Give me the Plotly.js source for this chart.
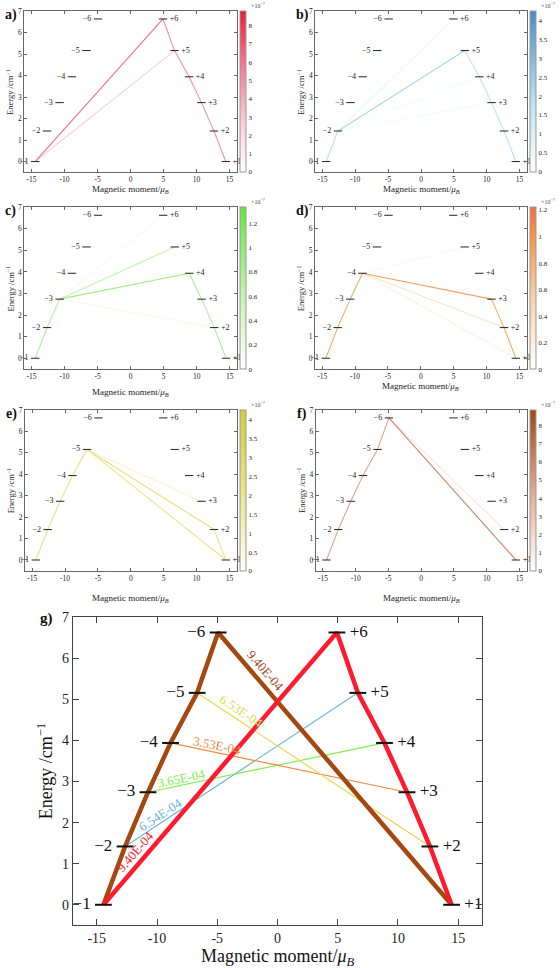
<!DOCTYPE html>
<html><head><meta charset="utf-8">
<script src="https://cdn.plot.ly/plotly-3.0.1.min.js"></script>
<style>html,body{margin:0;padding:0;background:#fff}</style>
</head><body><div id="chart" style="width:560px;height:968px"></div>
<script>
// ---- data ----
const STATE_MOMENT = [14.45, 12.65, 10.75, 8.88, 6.67, 4.93];   // |M| of states ±1..±6
const STATE_ENERGY = [0, 1.42, 2.74, 3.94, 5.16, 6.63];          // energy of states ±1..±6
const STATE_IDS = [-1,-2,-3,-4,-5,-6,1,2,3,4,5,6];
const X_TICKS = [-15,-10,-5,0,5,10,15];
const X_TICK_TEXT = ['-15','-10','-5','0','5','10','15'];
const Y_TICKS = [0,1,2,3,4,5,6,7];

// transitions [from, to, value (x1e-7)]
const A_TRANS = [[-1,5,2.6],[-1,4,0.35],[-1,3,0.12],[-1,6,6.2],[6,5,5.0],[5,4,5.0],[4,3,5.0],[3,2,5.0],[2,1,5.0]];
const B_TRANS = [[-2,6,0.5],[-2,4,0.3],[-2,3,0.25],[-1,-2,1.8],[-2,5,2.2],[5,4,1.8],[4,3,1.8],[3,2,1.8],[2,1,1.8]];
const C_TRANS = [[-3,6,0.15],[-3,2,0.15],[-1,-2,0.8],[-2,-3,0.8],[-3,5,0.6],[-3,4,0.9],[4,3,0.8],[3,2,0.8],[2,1,0.8]];
const D_TRANS = [[-4,5,0.1],[-4,1,0.15],[-4,2,0.35],[-1,-2,0.85],[-2,-3,0.85],[-3,-4,0.85],[-4,3,0.9],[3,2,0.85],[2,1,0.85]];
const E_TRANS = [[-5,3,0.8],[-1,-2,2.2],[-2,-3,2.2],[-3,-4,2.2],[-4,-5,2.2],[-5,2,2.4],[-5,1,2.0],[2,1,2.2]];
const F_TRANS = [[-6,2,1.2],[-1,-2,4.6],[-2,-3,4.6],[-3,-4,4.6],[-4,-5,4.6],[-5,-6,4.6],[-6,1,6.0]];

const CB_MAX = [8.8, 4.24, 1.33, 1.22, 4.25, 8.84];
const CB_DTICK = [1, 0.5, 0.2, 0.2, 0.5, 1];
const PANEL_LETTERS = ['a)','b)','c)','d)','e)','f)'];

// panel g
const G_BROWN_PATH = [-1,-2,-3,-4,-5,-6,1];
const G_RED_PATH = [-1,6,5,4,3,2,1];
const G_THIN = [[-2,5],[-3,4],[-4,3],[-5,2]];
const G_THIN_LABELS = ['6.54E-04','3.65E-04','3.53E-04','6.53E-04'];
const G_THIN_LABEL_X = [-9.7, -8.0, -5.0, -2.95];
const G_THIN_LABEL_Y = [2.2, 3.08, 3.88, 4.71];
const G_THICK_LABELS = ['9.40E-04','9.40E-04'];       // brown (-6→+1), red (-1→+6)
const G_THICK_LABEL_X = [-1.0, -11.8];
const G_THICK_LABEL_Y = [5.7, 1.29];

// ---- styles ----
const SERIF = 'Liberation Serif, Times New Roman, serif';
const COLORSCALES = [
  [[0,'#ffffff'],[0.35,'#fbc6d2'],[0.7,'#f0708c'],[1,'#ee1f33']],
  [[0,'#ffffff'],[0.45,'#b6e2f0'],[1,'#4a8cc2']],
  [[0,'#ffffff'],[0.5,'#bff2a6'],[1,'#5ee83a']],
  [[0,'#ffffff'],[0.45,'#f9d0ac'],[0.85,'#f5923e'],[1,'#f06a52']],
  [[0,'#ffffff'],[0.45,'#ece68e'],[1,'#d4cb3c']],
  [[0,'#ffffff'],[0.45,'#e6b29c'],[1,'#a04a16']]
];
const G_COLORS = {brown:'#a5470f', red:'#ff1a2e', thin:['#6ab6d8','#80ee50','#f58a3c','#e2da50']};

const W = 560, H = 968;
// panel plot-area pixel boxes [left, right, top, bottom]
const BOX = [[24.3,236.7,11,172.3],[315.3,526.7,11,172.3],[24.3,237,207.3,369],[315,526.7,207.3,369],[25,236.7,410,570.7],[315.7,526.7,410,570.7]];
const GBOX = [72.7,482.3,617.3,925.3];
const XTITLE_Y = [189,189,392,387,598,598];
const NB = '\u00a0';

function sp(id){ const i=Math.abs(id)-1; return {x:Math.sign(id)*STATE_MOMENT[i], y:STATE_ENERGY[i]}; }
function stateLabel(i, gap){ return i<0 ? '\u2212'+Math.abs(i)+gap : gap+'+'+i; }
function hex2rgb(h){ return [1,3,5].map(k=>parseInt(h.substr(k,2),16)); }
function colorAt(cs, t){
  t=Math.max(0,Math.min(1,t));
  for(let k=1;k<cs.length;k++){
    if(t<=cs[k][0]){
      const a=cs[k-1], b=cs[k], f=(t-a[0])/(b[0]-a[0]);
      const ca=hex2rgb(a[1]), cb=hex2rgb(b[1]);
      const c=ca.map((v,j)=>Math.round(v+(cb[j]-v)*f));
      return 'rgb('+c.join(',')+')';
    }
  }
  return cs[cs.length-1][1];
}

const traces=[], annotations=[], layout={
  width:W, height:H, margin:{l:0,r:0,t:0,b:0}, showlegend:false,
  paper_bgcolor:'#fff', plot_bgcolor:'#fff', font:{family:SERIF, color:'#222'}
};
const allTrans=[A_TRANS,B_TRANS,C_TRANS,D_TRANS,E_TRANS,F_TRANS];

function axisCommon(range, tickfs, ticklen){
  return {range:range, showgrid:false, zeroline:false, showline:true, linecolor:'#666', linewidth:1,
    ticks:'inside', mirror:'ticks', ticklen:ticklen, tickcolor:'#666', tickfont:{size:tickfs, family:SERIF, color:'#222'}, fixedrange:true};
}

allTrans.forEach((trans,p)=>{
  const n=p+1, xa='x'+n, ya='y'+n;
  const b=BOX[p];
  layout['xaxis'+n]=Object.assign(axisCommon([-16.1,16.1],7.5,3),{domain:[b[0]/W,b[1]/W], anchor:ya, tickvals:X_TICKS, ticktext:X_TICK_TEXT});
  layout['yaxis'+n]=Object.assign(axisCommon([-0.5,7],7.5,3),{domain:[1-b[3]/H,1-b[2]/H], anchor:xa, tickvals:Y_TICKS});
  const cs=COLORSCALES[p], cmax=CB_MAX[p];
  trans.forEach(t=>{
    const s=sp(t[0]), e=sp(t[1]);
    traces.push({x:[s.x,e.x], y:[s.y,e.y], xaxis:xa, yaxis:ya, mode:'lines', hoverinfo:'skip',
      line:{color:colorAt(cs,t[2]/cmax), width:1.1}});
  });
  // state markers + labels
  const neg=STATE_IDS.filter(i=>i<0), pos=STATE_IDS.filter(i=>i>0);
  [[neg,'middle left'],[pos,'middle right']].forEach(([ids,tp])=>{
    traces.push({x:ids.map(i=>sp(i).x), y:ids.map(i=>sp(i).y), xaxis:xa, yaxis:ya, mode:'markers+text', cliponaxis:false,
      text:ids.map(i=>stateLabel(i,NB)), textposition:tp, textfont:{size:8,family:SERIF,color:'#222'},
      marker:{symbol:'line-ew', size:6, line:{width:1,color:'#222'}}, hoverinfo:'skip'});
  });
  // colorbar dummy
  const s0=sp(-1);
  traces.push({x:[s0.x,s0.x], y:[s0.y,s0.y], xaxis:xa, yaxis:ya, mode:'markers', hoverinfo:'skip',
    marker:{size:0.1, opacity:0, color:[0,cmax], cmin:0, cmax:cmax, colorscale:cs, showscale:true,
      colorbar:{x:(b[1]+3.5)/W, xanchor:'left', y:1-b[2]/H, yanchor:'top', len:(b[3]-b[2])/H, lenmode:'fraction',
        thickness:6, thicknessmode:'pixels', xpad:0, ypad:0, outlinewidth:1, outlinecolor:'#999',
        dtick:CB_DTICK[p], tick0:0, ticks:'', tickfont:{size:7,family:SERIF,color:'#222'}}}});
  annotations.push({xref:'paper',yref:'paper',x:(b[1]+12)/W,y:1-(b[2]-6)/H,text:'\u00d710<sup>\u22127</sup>',showarrow:false,font:{size:6,family:SERIF,color:'#444'},xanchor:'left',yanchor:'middle'});
  annotations.push({xref:'paper',yref:'paper',x:(b[0]-21)/W,y:1-(b[2]+4)/H,text:'<b>'+PANEL_LETTERS[p]+'</b>',showarrow:false,font:{size:14,family:SERIF,color:'#111'},xanchor:'left',yanchor:'middle'});
  annotations.push({xref:'paper',yref:'paper',x:(b[0]-14)/W,y:1-((b[2]+b[3])/2)/H,text:'Energy /cm<sup>\u22121</sup>',textangle:-90,showarrow:false,font:{size:8.5,family:SERIF,color:'#222'},xanchor:'center',yanchor:'middle'});
  annotations.push({xref:'paper',yref:'paper',x:((b[0]+b[1])/2)/W,y:1-XTITLE_Y[p]/H,text:'Magnetic moment/<i>\u03bc<sub>B</sub></i>',showarrow:false,font:{size:9,family:SERIF,color:'#222'},xanchor:'center',yanchor:'middle'});
});

// ---- panel g ----
const gx='x7', gy='y7';
layout.xaxis7=Object.assign(axisCommon([-17,17],14,6),{domain:[GBOX[0]/W,GBOX[1]/W], anchor:gy, tickvals:X_TICKS, ticktext:X_TICK_TEXT, linecolor:'#444', tickcolor:'#444'});
layout.yaxis7=Object.assign(axisCommon([-0.5,7],14,6),{domain:[1-GBOX[3]/H,1-GBOX[2]/H], anchor:gx, tickvals:Y_TICKS, linecolor:'#444', tickcolor:'#444'});
const pxX=(GBOX[1]-GBOX[0])/34, pxY=(GBOX[3]-GBOX[2])/7.5;
function angle(a,b){ const s=sp(a), e=sp(b); return -Math.atan2((e.y-s.y)*pxY,(e.x-s.x)*pxX)*180/Math.PI; }

G_THIN.forEach((t,k)=>{
  const s=sp(t[0]), e=sp(t[1]);
  traces.push({x:[s.x,e.x], y:[s.y,e.y], xaxis:gx, yaxis:gy, mode:'lines', hoverinfo:'skip', line:{color:G_COLORS.thin[k], width:1.2}});
  annotations.push({xref:gx, yref:gy, x:G_THIN_LABEL_X[k], y:G_THIN_LABEL_Y[k], text:G_THIN_LABELS[k], textangle:angle(t[0],t[1]),
    showarrow:false, font:{size:13,family:SERIF,color:G_COLORS.thin[k]}});
});
[[G_BROWN_PATH,G_COLORS.brown],[G_RED_PATH,G_COLORS.red]].forEach(([path,col])=>{
  traces.push({x:path.map(i=>sp(i).x), y:path.map(i=>sp(i).y), xaxis:gx, yaxis:gy, mode:'lines', hoverinfo:'skip', line:{color:col, width:4.5}});
});
annotations.push({xref:gx, yref:gy, x:G_THICK_LABEL_X[0], y:G_THICK_LABEL_Y[0], text:G_THICK_LABELS[0], textangle:angle(-6,1), showarrow:false, font:{size:13,family:SERIF,color:G_COLORS.brown}});
annotations.push({xref:gx, yref:gy, x:G_THICK_LABEL_X[1], y:G_THICK_LABEL_Y[1], text:G_THICK_LABELS[1], textangle:angle(-1,6), showarrow:false, font:{size:13,family:SERIF,color:G_COLORS.red}});
{
  const neg=STATE_IDS.filter(i=>i<0), pos=STATE_IDS.filter(i=>i>0);
  [[neg,'middle left'],[pos,'middle right']].forEach(([ids,tp])=>{
    traces.push({x:ids.map(i=>sp(i).x), y:ids.map(i=>sp(i).y), xaxis:gx, yaxis:gy, mode:'markers+text', cliponaxis:false,
      text:ids.map(i=>stateLabel(i,NB)), textposition:tp, textfont:{size:17,family:SERIF,color:'#111'},
      marker:{symbol:'line-ew', size:12, line:{width:2,color:'#111'}}, hoverinfo:'skip'});
  });
}
annotations.push({xref:'paper',yref:'paper',x:47/W,y:1-618/H,text:'<b>g)</b>',showarrow:false,font:{size:15,family:SERIF,color:'#111'},xanchor:'center',yanchor:'middle'});
annotations.push({xref:'paper',yref:'paper',x:45/W,y:1-((GBOX[2]+GBOX[3])/2)/H,text:'Energy /cm<sup>\u22121</sup>',textangle:-90,showarrow:false,font:{size:18,family:SERIF,color:'#111'},xanchor:'center',yanchor:'middle'});
annotations.push({xref:'paper',yref:'paper',x:((GBOX[0]+GBOX[1])/2)/W,y:1-957/H,text:'Magnetic moment/<i>\u03bc<sub>B</sub></i>',showarrow:false,font:{size:18,family:SERIF,color:'#111'},xanchor:'center',yanchor:'middle'});

layout.annotations=annotations;
Plotly.newPlot('chart', traces, layout, {staticPlot:true, displayModeBar:false});
</script></body></html>
